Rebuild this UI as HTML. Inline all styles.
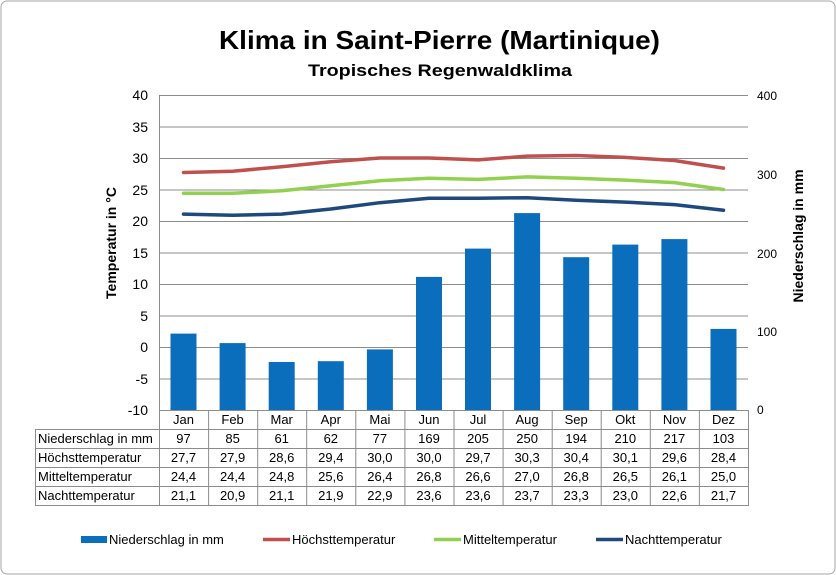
<!DOCTYPE html>
<html><head><meta charset="utf-8"><style>
body{margin:0;background:#fff}
svg{display:block;font-family:"Liberation Sans",Arial,sans-serif}
</style></head><body>
<svg width="836" height="575" viewBox="0 0 836 575">
<rect x="1" y="1" width="834" height="573" rx="6" fill="#fff" stroke="#a6a6a6"/>
<text x="219" y="49" font-size="26" font-weight="bold" textLength="441" lengthAdjust="spacingAndGlyphs">Klima in Saint-Pierre (Martinique)</text>
<text x="308" y="76" font-size="17" font-weight="bold" textLength="264" lengthAdjust="spacingAndGlyphs">Tropisches Regenwaldklima</text>
<g stroke="#8c8c8c" stroke-width="1">
<line x1="159" y1="95.5" x2="748" y2="95.5"/><line x1="159" y1="127" x2="748" y2="127"/>
<line x1="159" y1="158.5" x2="748" y2="158.5"/><line x1="159" y1="190" x2="748" y2="190"/>
<line x1="159" y1="221.5" x2="748" y2="221.5"/><line x1="159" y1="253" x2="748" y2="253"/>
<line x1="159" y1="284.5" x2="748" y2="284.5"/><line x1="159" y1="316" x2="748" y2="316"/>
<line x1="159" y1="347.5" x2="748" y2="347.5"/><line x1="159" y1="379" x2="748" y2="379"/>
<line x1="159.5" y1="95" x2="159.5" y2="410"/>
</g>
<g font-size="14" text-anchor="end">
<text x="148" y="100">40</text><text x="148" y="132">35</text><text x="148" y="163">30</text><text x="148" y="195">25</text><text x="148" y="226">20</text><text x="148" y="258">15</text><text x="148" y="289">10</text><text x="148" y="321">5</text><text x="148" y="352">0</text><text x="148" y="384">-5</text><text x="148" y="415">-10</text>
</g>
<g font-size="12">
<text x="757" y="100">400</text><text x="757" y="179">300</text><text x="757" y="258">200</text><text x="757" y="336">100</text><text x="757" y="414">0</text>
</g>
<text transform="translate(116,243) rotate(-90)" font-size="14" font-weight="bold" text-anchor="middle">Temperatur in °C</text>
<text transform="translate(803,236) rotate(-90)" font-size="14" font-weight="bold" text-anchor="middle">Niederschlag in mm</text>
<g fill="#0a6ebd">
<rect x="170.5" y="333.6" width="26" height="76.4"/><rect x="219.6" y="343.1" width="26" height="66.9"/>
<rect x="268.7" y="362" width="26" height="48"/><rect x="317.8" y="361.2" width="26" height="48.8"/>
<rect x="366.9" y="349.4" width="26" height="60.6"/><rect x="416" y="276.9" width="26" height="133.1"/>
<rect x="465" y="248.6" width="26" height="161.4"/><rect x="514.1" y="213.1" width="26" height="196.9"/>
<rect x="563.2" y="257.2" width="26" height="152.8"/><rect x="612.3" y="244.6" width="26" height="165.4"/>
<rect x="661.4" y="239.1" width="26" height="170.9"/><rect x="710.5" y="328.9" width="26" height="81.1"/>
</g>
<g fill="none" stroke-width="3.5" stroke-linejoin="round" stroke-linecap="round">
<polyline stroke="#c0504d" points="183.5,172.5 232.6,171.2 281.7,166.8 330.8,161.8 379.9,158 429,158 478,159.9 527.1,156.1 576.2,155.5 625.3,157.4 674.4,160.5 723.5,168.1"/>
<polyline stroke="#92d050" points="183.5,193.3 232.6,193.3 281.7,190.8 330.8,185.7 379.9,180.7 429,178.2 478,179.4 527.1,176.9 576.2,178.2 625.3,180.1 674.4,182.6 723.5,189.5"/>
<polyline stroke="#1f497d" points="183.5,214.1 232.6,215.3 281.7,214.1 330.8,209 379.9,202.7 429,198.3 478,198.3 527.1,197.7 576.2,200.2 625.3,202.1 674.4,204.6 723.5,210.3"/>
</g>
<g stroke="#8c8c8c" stroke-width="1" fill="none">
<line x1="159" y1="410.5" x2="748" y2="410.5"/>
<line x1="35" y1="429.5" x2="748" y2="429.5"/><line x1="35" y1="448.5" x2="748" y2="448.5"/>
<line x1="35" y1="467.5" x2="748" y2="467.5"/><line x1="35" y1="486.5" x2="748" y2="486.5"/>
<line x1="35" y1="505.5" x2="748" y2="505.5"/>
<line x1="35.5" y1="429" x2="35.5" y2="506"/>
<line x1="159.5" y1="410" x2="159.5" y2="506"/><line x1="208.6" y1="410" x2="208.6" y2="506"/>
<line x1="257.7" y1="410" x2="257.7" y2="506"/><line x1="306.7" y1="410" x2="306.7" y2="506"/>
<line x1="355.8" y1="410" x2="355.8" y2="506"/><line x1="404.9" y1="410" x2="404.9" y2="506"/>
<line x1="454" y1="410" x2="454" y2="506"/><line x1="503.1" y1="410" x2="503.1" y2="506"/>
<line x1="552.2" y1="410" x2="552.2" y2="506"/><line x1="601.2" y1="410" x2="601.2" y2="506"/>
<line x1="650.3" y1="410" x2="650.3" y2="506"/><line x1="699.4" y1="410" x2="699.4" y2="506"/>
<line x1="748.5" y1="410" x2="748.5" y2="506"/>
</g>
<g font-size="13">
<text x="38" y="443">Niederschlag in mm</text><text x="38" y="462">Höchsttemperatur</text>
<text x="38" y="481">Mitteltemperatur</text><text x="38" y="500">Nachttemperatur</text>
</g>
<g font-size="13" text-anchor="middle">
<text y="424"><tspan x="183.5">Jan</tspan><tspan x="232.6">Feb</tspan><tspan x="281.7">Mar</tspan><tspan x="330.8">Apr</tspan><tspan x="379.9">Mai</tspan><tspan x="429">Jun</tspan><tspan x="478">Jul</tspan><tspan x="527.1">Aug</tspan><tspan x="576.2">Sep</tspan><tspan x="625.3">Okt</tspan><tspan x="674.4">Nov</tspan><tspan x="723.5">Dez</tspan></text>
<text y="443"><tspan x="183.5">97</tspan><tspan x="232.6">85</tspan><tspan x="281.7">61</tspan><tspan x="330.8">62</tspan><tspan x="379.9">77</tspan><tspan x="429">169</tspan><tspan x="478">205</tspan><tspan x="527.1">250</tspan><tspan x="576.2">194</tspan><tspan x="625.3">210</tspan><tspan x="674.4">217</tspan><tspan x="723.5">103</tspan></text>
<text y="462"><tspan x="183.5">27,7</tspan><tspan x="232.6">27,9</tspan><tspan x="281.7">28,6</tspan><tspan x="330.8">29,4</tspan><tspan x="379.9">30,0</tspan><tspan x="429">30,0</tspan><tspan x="478">29,7</tspan><tspan x="527.1">30,3</tspan><tspan x="576.2">30,4</tspan><tspan x="625.3">30,1</tspan><tspan x="674.4">29,6</tspan><tspan x="723.5">28,4</tspan></text>
<text y="481"><tspan x="183.5">24,4</tspan><tspan x="232.6">24,4</tspan><tspan x="281.7">24,8</tspan><tspan x="330.8">25,6</tspan><tspan x="379.9">26,4</tspan><tspan x="429">26,8</tspan><tspan x="478">26,6</tspan><tspan x="527.1">27,0</tspan><tspan x="576.2">26,8</tspan><tspan x="625.3">26,5</tspan><tspan x="674.4">26,1</tspan><tspan x="723.5">25,0</tspan></text>
<text y="500"><tspan x="183.5">21,1</tspan><tspan x="232.6">20,9</tspan><tspan x="281.7">21,1</tspan><tspan x="330.8">21,9</tspan><tspan x="379.9">22,9</tspan><tspan x="429">23,6</tspan><tspan x="478">23,6</tspan><tspan x="527.1">23,7</tspan><tspan x="576.2">23,3</tspan><tspan x="625.3">23,0</tspan><tspan x="674.4">22,6</tspan><tspan x="723.5">21,7</tspan></text>
</g>
<rect x="81" y="536" width="26" height="7" fill="#0a6ebd"/>
<line x1="263" y1="539.5" x2="290" y2="539.5" stroke="#c0504d" stroke-width="3.5"/>
<line x1="434" y1="539.5" x2="461" y2="539.5" stroke="#92d050" stroke-width="3.5"/>
<line x1="596" y1="539.5" x2="623" y2="539.5" stroke="#1f497d" stroke-width="3.5"/>
<g font-size="13">
<text x="109" y="544">Niederschlag in mm</text><text x="292" y="544">Höchsttemperatur</text>
<text x="463" y="544">Mitteltemperatur</text><text x="625" y="544">Nachttemperatur</text>
</g>
</svg>
</body></html>
